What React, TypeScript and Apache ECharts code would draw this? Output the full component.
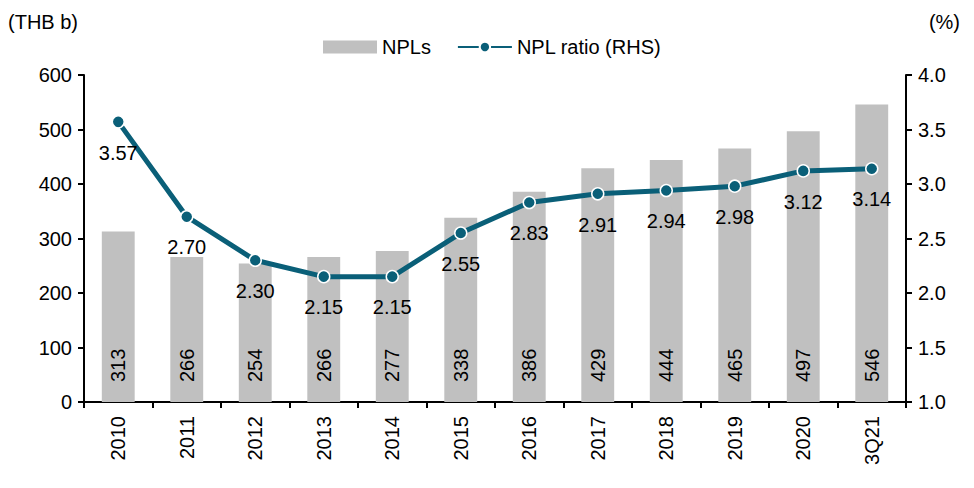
import React, { useEffect, useRef } from "react";
import * as echarts from "echarts";

const categories = ["2010", "2011", "2012", "2013", "2014", "2015", "2016", "2017", "2018", "2019", "2020", "3Q21"];
const npls = [313, 266, 254, 266, 277, 338, 386, 429, 444, 465, 497, 546];
const nplRatio = [3.57, 2.7, 2.3, 2.15, 2.15, 2.55, 2.83, 2.91, 2.94, 2.98, 3.12, 3.14];

const FONT = "'Liberation Sans', Arial, sans-serif";
const TEAL = "#0A5F78";
const FS = 20;

export default function App() {
  const ref = useRef<HTMLDivElement>(null);
  useEffect(() => {
    if (!ref.current) return;
    const chart = echarts.init(ref.current, null, { renderer: "svg" });
    chart.setOption({
      animation: false,
      textStyle: { fontFamily: FONT, color: "#000" },
      grid: { left: 76, right: 60, top: 67, bottom: 78 },
      legend: {
        top: 24,
        left: 310,
        itemGap: 26,
        itemWidth: 54,
        itemHeight: 13,
        textStyle: { fontFamily: FONT, fontSize: FS, color: "#000" },
        data: [
          { name: "NPLs", icon: "rect" },
          { name: "NPL ratio (RHS)" },
        ],
      },
      graphic: [
        { type: "text", left: 0, top: 4, style: { text: "(THB b)", font: `${FS}px ${FONT}`, fill: "#000" } },
        { type: "text", right: 6, top: 4, style: { text: "(%)", font: `${FS}px ${FONT}`, fill: "#000" } },
      ],
      xAxis: {
        type: "category",
        data: categories,
        axisLine: { lineStyle: { color: "#000", width: 2 } },
        axisTick: { show: true, length: 6, lineStyle: { color: "#000", width: 2 } },
        axisLabel: { rotate: 90, fontSize: FS, color: "#000", fontFamily: FONT, margin: 14 },
      },
      yAxis: [
        {
          type: "value",
          min: 0,
          max: 600,
          interval: 100,
          splitLine: { show: false },
          axisLine: { show: true, lineStyle: { color: "#000", width: 2 } },
          axisTick: { show: true, length: 6, lineStyle: { color: "#000", width: 2 } },
          axisLabel: { fontSize: FS, color: "#000", fontFamily: FONT, margin: 12 },
        },
        {
          type: "value",
          min: 1,
          max: 4,
          interval: 0.5,
          splitLine: { show: false },
          axisLine: { show: true, lineStyle: { color: "#000", width: 2 } },
          axisTick: { show: true, length: 6, lineStyle: { color: "#000", width: 2 } },
          axisLabel: {
            fontSize: FS,
            color: "#000",
            fontFamily: FONT,
            margin: 12,
            formatter: (v: number) => v.toFixed(1),
          },
        },
      ],
      series: [
        {
          name: "NPLs",
          type: "bar",
          data: npls,
          barWidth: "48%",
          itemStyle: { color: "#C0C0C0" },
          label: {
            show: true,
            position: "insideBottom",
            rotate: 90,
            align: "left",
            verticalAlign: "middle",
            distance: 20,
            fontSize: FS,
            color: "#000",
            fontFamily: FONT,
          },
        },
        {
          name: "NPL ratio (RHS)",
          type: "line",
          yAxisIndex: 1,
          data: nplRatio,
          symbol: "circle",
          symbolSize: 12,
          lineStyle: { color: TEAL, width: 5 },
          itemStyle: { color: TEAL, borderColor: "#fff", borderWidth: 1.5 },
          label: {
            show: true,
            position: "bottom",
            distance: 14,
            fontSize: FS,
            color: "#000",
            fontFamily: FONT,
            formatter: (p: any) => p.value.toFixed(2),
          },
        },
      ],
    });
    return () => chart.dispose();
  }, []);
  return <div ref={ref} style={{ width: 958, height: 472 }} />;
}
